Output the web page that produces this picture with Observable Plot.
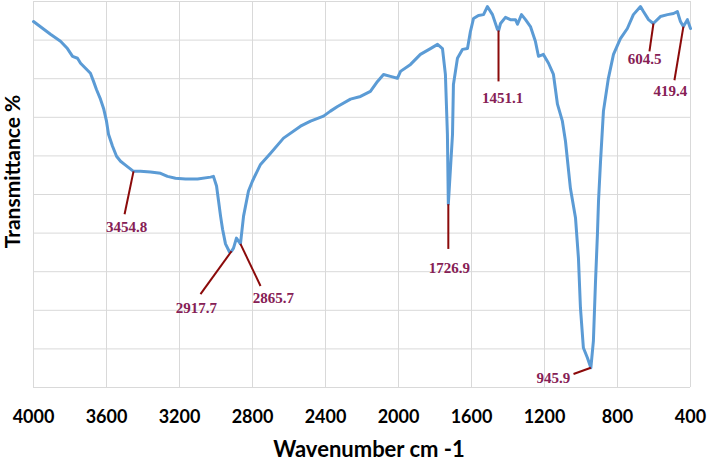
<!DOCTYPE html>
<html>
<head>
<meta charset="utf-8">
<script src="https://cdn.jsdelivr.net/npm/d3@7"></script>
<script src="https://cdn.jsdelivr.net/npm/@observablehq/plot@0.6"></script>
<style>
  html, body { margin: 0; padding: 0; background: #fff; }
  #chart { width: 708px; height: 460px; }
</style>
</head>
<body>
<div id="chart"></div>
<script>
// FTIR spectrum: wavenumber (cm-1) vs transmittance (%)
const wavenumber = [4000, 3907, 3852, 3814, 3786, 3759, 3742, 3715, 3688, 3671, 3655, 3633, 3616, 3600, 3589, 3567, 3545, 3523, 3496, 3452, 3414, 3359, 3304, 3266, 3222, 3167, 3101, 3030, 3014, 2997, 2986, 2975, 2964, 2948, 2926, 2915, 2904, 2888, 2866, 2849, 2822, 2800, 2756, 2701, 2630, 2537, 2482, 2411, 2373, 2334, 2263, 2208, 2154, 2115, 2082, 2044, 2006, 1989, 1934, 1880, 1825, 1786, 1759, 1743, 1732, 1727, 1704, 1699, 1677, 1649, 1622, 1606, 1589, 1562, 1534, 1513, 1485, 1458, 1451, 1441, 1414, 1387, 1359, 1348, 1326, 1304, 1277, 1250, 1233, 1206, 1178, 1151, 1129, 1102, 1085, 1058, 1030, 1014, 1003, 987, 965, 946, 932, 921, 910, 904, 893, 877, 850, 822, 784, 746, 713, 674, 658, 630, 604, 565, 526, 493, 472, 455, 439, 417, 400];
const transmittance = [94.8, 91.5, 89.7, 87.8, 85.8, 85.3, 84.0, 82.7, 81.4, 79.3, 77.2, 74.7, 72.3, 69.0, 65.6, 62.5, 59.9, 58.6, 57.6, 56.0, 56.0, 55.8, 55.5, 54.7, 54.2, 54.0, 54.0, 54.5, 54.7, 52.2, 48.3, 44.4, 41.0, 37.2, 35.1, 35.3, 36.1, 38.7, 37.2, 44.4, 50.9, 53.5, 57.8, 60.7, 64.6, 67.7, 69.0, 70.3, 71.6, 72.8, 74.7, 75.4, 76.7, 79.3, 81.1, 80.6, 80.1, 81.9, 83.7, 86.3, 87.8, 88.9, 87.8, 81.1, 65.6, 47.5, 65.6, 78.5, 85.3, 87.6, 87.8, 92.2, 95.6, 96.4, 96.6, 98.7, 96.6, 92.8, 92.5, 94.3, 95.9, 95.3, 95.3, 94.1, 96.6, 95.3, 93.5, 89.7, 85.8, 86.3, 84.0, 81.1, 73.4, 69.0, 63.8, 51.6, 43.9, 33.5, 20.6, 10.3, 7.7, 5.1, 12.1, 26.8, 39.7, 48.3, 58.6, 71.6, 80.1, 86.3, 90.4, 93.0, 96.6, 98.7, 97.4, 95.3, 94.3, 96.1, 96.6, 96.9, 97.4, 94.8, 93.5, 95.3, 93.0];

// Peak annotations (data units): peak point, leader end, label position
const peakLabels = ["3454.8", "2917.7", "2865.7", "1726.9", "1451.1", "945.9", "604.5", "419.4"];
const peakX      = [3452, 2915, 2866, 1727, 1452, 946, 603, 439];
const peakY      = [56.0, 35.3, 37.2, 47.5, 92.5, 5.1, 94.3, 93.5];
const leaderX    = [3501, 3085, 2756, 1727, 1452, 1041, 625, 488];
const leaderY    = [44.9, 24.2, 26.3, 35.9, 79.3, 3.5, 87.1, 79.6];
const labelX     = [3490, 3107, 2685, 1721, 1430, 1151, 652, 510];
const labelY     = [41.6, 20.6, 23.2, 31.0, 74.9, 2.5, 85.0, 76.7];

const xTicks = d3.range(400, 4001, 400);
const yTicks = d3.range(0, 101, 10);
const xTitle = "Wavenumber cm -1";
const yTitle = "Transmittance %";

const spectrum = wavenumber.map((w, i) => ({w, t: transmittance[i]}));
const peaks = peakLabels.map((label, i) => ({
  label, x1: peakX[i], y1: peakY[i], x2: leaderX[i], y2: leaderY[i], lx: labelX[i], ly: labelY[i]
}));

const chart = Plot.plot({
  width: 708,
  height: 460,
  marginLeft: 33,
  marginRight: 18,
  marginTop: 1,
  marginBottom: 73,
  style: {background: "#fff", fontFamily: "Lato, sans-serif"},
  x: {type: "linear", domain: [4000, 400], ticks: xTicks},
  y: {domain: [0, 100], ticks: yTicks},
  marks: [
    Plot.gridX(xTicks, {stroke: "#d9d9d9", strokeOpacity: 1, strokeWidth: 1}),
    Plot.gridY(yTicks, {stroke: "#d9d9d9", strokeOpacity: 1, strokeWidth: 1}),
    Plot.axisX(xTicks, {tickSize: 0, tickPadding: 23, fontSize: 18, fontWeight: "bold", fill: "#000", label: null, tickFormat: d => String(d)}),
    Plot.axisY({ticks: [], label: null}),
    Plot.line(spectrum, {x: "w", y: "t", stroke: "#5b9bd5", strokeWidth: 3, strokeLinejoin: "round", strokeLinecap: "round"}),
    Plot.link(peaks, {x1: "x1", y1: "y1", x2: "x2", y2: "y2", stroke: "#8b0a0a", strokeWidth: 2}),
    Plot.text(peaks, {x: "lx", y: "ly", text: "label", fill: "#862055", fontFamily: "Liberation Serif", fontWeight: "bold", fontSize: 15}),
    Plot.text([xTitle], {frameAnchor: "bottom", text: d => d, dx: 7, dy: 69, fontSize: 22, fontWeight: "bold", fill: "#000", textAnchor: "middle"}),
    Plot.text([yTitle], {frameAnchor: "left", text: d => d, rotate: -90, dx: -20, dy: -23, fontSize: 21, fontWeight: "bold", fill: "#000", textAnchor: "middle"})
  ]
});
document.getElementById("chart").appendChild(chart);
</script>
</body>
</html>
